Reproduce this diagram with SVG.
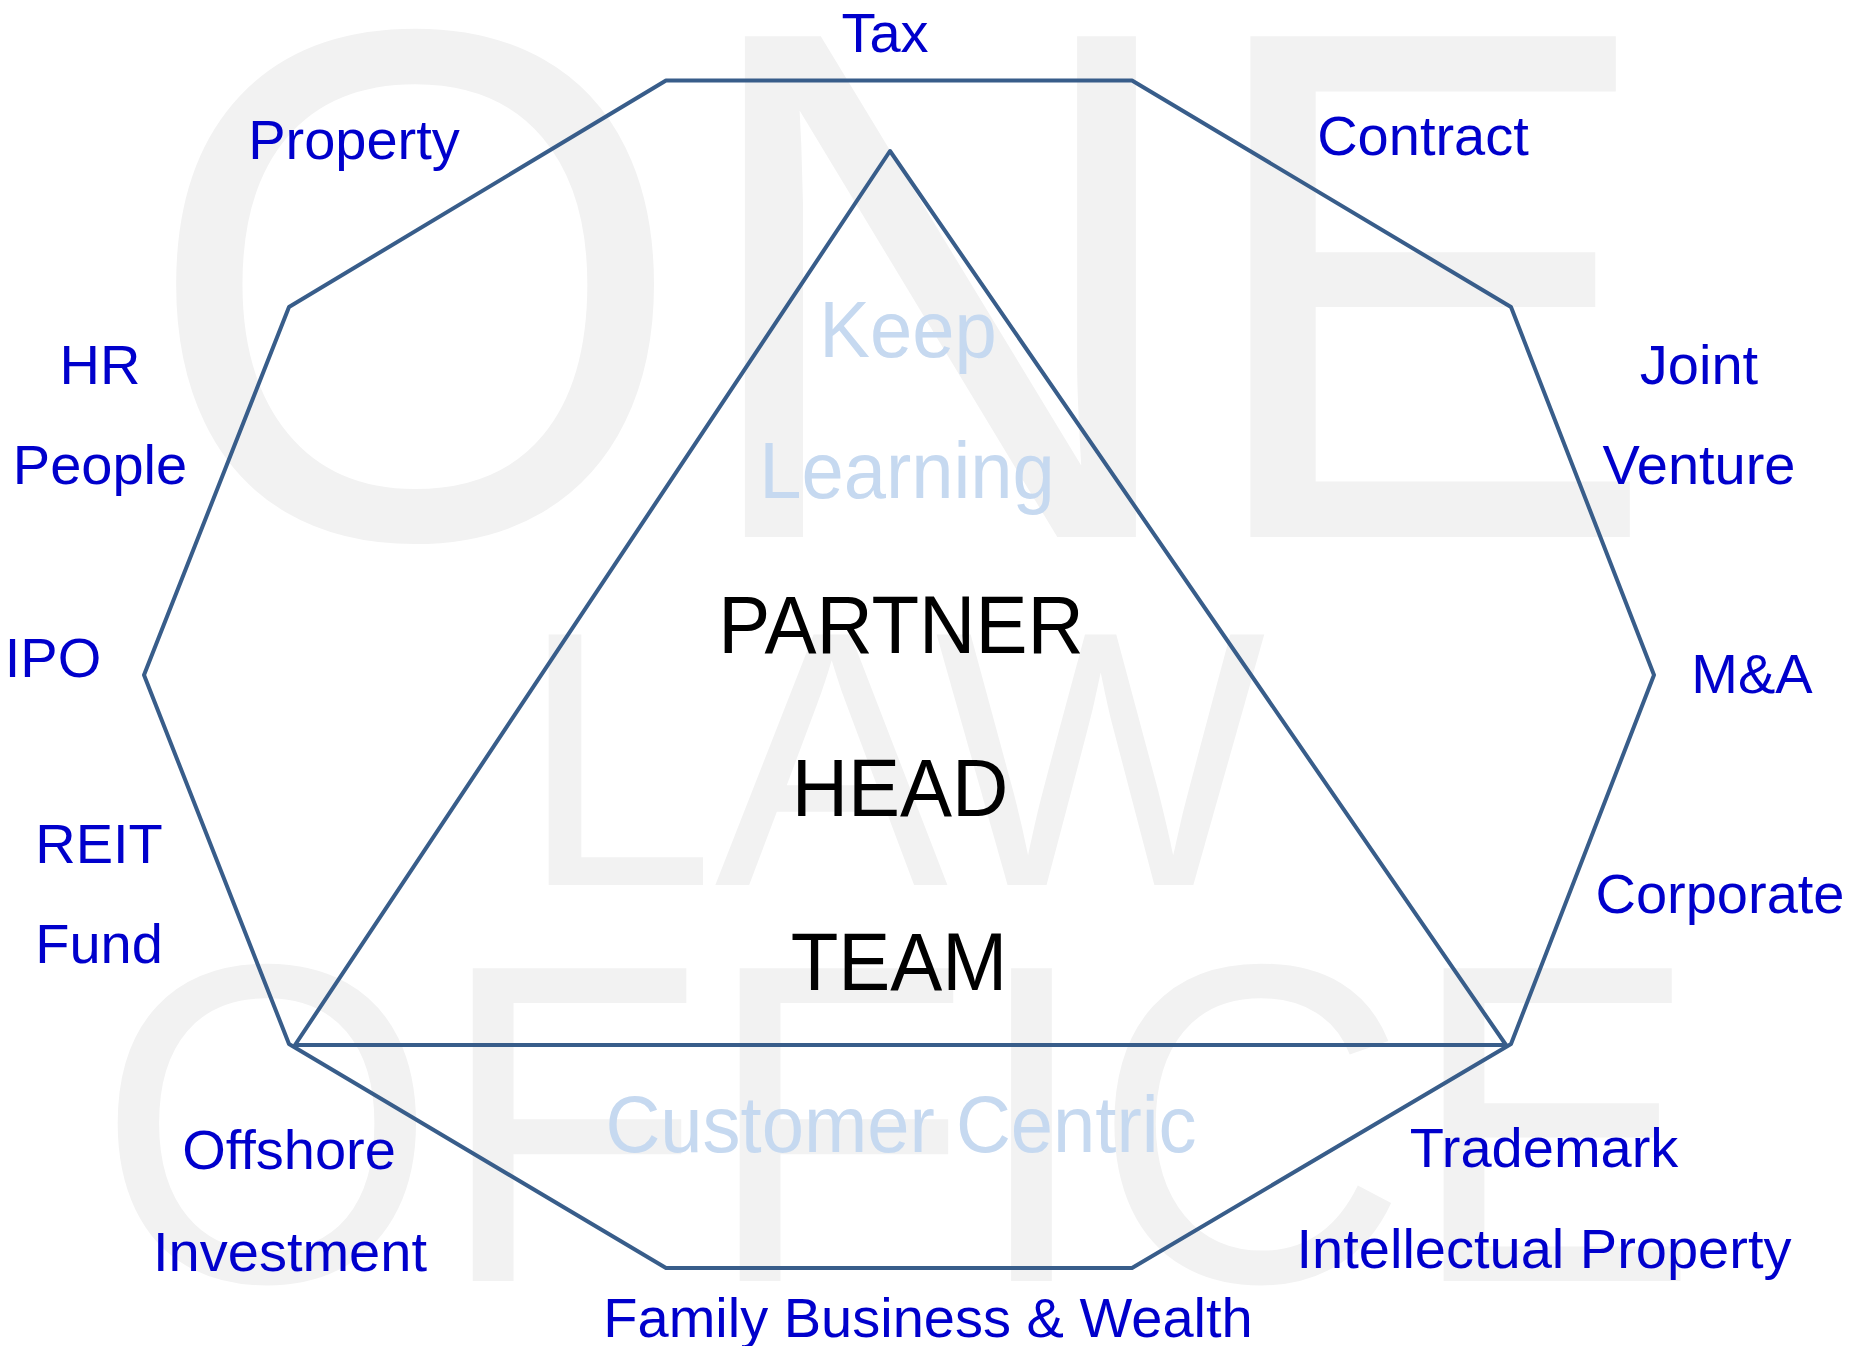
<svg xmlns="http://www.w3.org/2000/svg" width="1849" height="1346" viewBox="0 0 1849 1346">
  <style>
    text { font-family: "Liberation Sans", Arial, sans-serif; }
    .mark { fill: #F2F2F2; }
    .area { fill: #0000CC; font-size: 56px; text-anchor: middle; }
    .core { fill: #000000; font-size: 78px; text-anchor: middle; }
    .value { fill: #C6D9F0; font-size: 76px; text-anchor: middle; }
    .frame { fill: none; stroke: #385D8A; stroke-width: 4; stroke-linejoin: round; }
  </style>
  <rect width="1849" height="1346" fill="#FFFFFF"/>

  <!-- large background wordmark (slightly taller capitals, as in Arial) -->
  <g id="wordmark">
    <text class="mark" transform="translate(143,537) scale(1,1.04)" font-size="700">ONE</text>
    <text class="mark" transform="translate(520,885) scale(1,1.04)" font-size="350">LAW</text>
    <text class="mark" transform="translate(97,1281) scale(1,1.04)" font-size="437">OFFICE</text>
  </g>

  <!-- outline shapes -->
  <g id="connectors">
    <polygon id="octagon" class="frame" points="666,80.5 1132,80.5 1511,307 1654,675 1511,1044 1132,1268 666,1268 289,1044 144,675 289,307"/>
    <polygon id="triangle" class="frame" points="890,151 1506,1045 295,1045"/>
  </g>

  <!-- core values inside the triangle -->
  <g id="values">
    <text class="value" transform="translate(908,357) scale(1,1.04)">Keep</text>
    <text class="value" transform="translate(907,498) scale(1,1.04)">Learning</text>
    <text class="value" transform="translate(901,1152) scale(1,1.04)">Customer Centric</text>
  </g>

  <!-- centre -->
  <g id="core">
    <text class="core" transform="translate(901,653) scale(1,1.04)">PARTNER</text>
    <text class="core" transform="translate(900,816) scale(1,1.04)">HEAD</text>
    <text class="core" transform="translate(899,990) scale(1,1.04)">TEAM</text>
  </g>

  <!-- practice areas around the octagon -->
  <g id="area-tax"><text class="area" x="885" y="52">Tax</text></g>
  <g id="area-property"><text class="area" x="354" y="159">Property</text></g>
  <g id="area-contract"><text class="area" x="1423" y="155">Contract</text></g>
  <g id="area-hr">
    <text class="area" x="100" y="384">HR</text>
    <text class="area" x="100" y="484">People</text>
  </g>
  <g id="area-jv">
    <text class="area" x="1699" y="384">Joint</text>
    <text class="area" x="1699" y="484">Venture</text>
  </g>
  <g id="area-ipo"><text class="area" x="53" y="677">IPO</text></g>
  <g id="area-ma"><text class="area" x="1752" y="693">M&amp;A</text></g>
  <g id="area-reit">
    <text class="area" x="99" y="863">REIT</text>
    <text class="area" x="99" y="963">Fund</text>
  </g>
  <g id="area-corporate"><text class="area" x="1720" y="913">Corporate</text></g>
  <g id="area-offshore">
    <text class="area" x="289" y="1169">Offshore</text>
    <text class="area" x="290" y="1271">Investment</text>
  </g>
  <g id="area-ip">
    <text class="area" x="1544" y="1167">Trademark</text>
    <text class="area" x="1544" y="1268">Intellectual Property</text>
  </g>
  <g id="area-family"><text class="area" x="928" y="1337">Family Business &amp; Wealth</text></g>
</svg>
